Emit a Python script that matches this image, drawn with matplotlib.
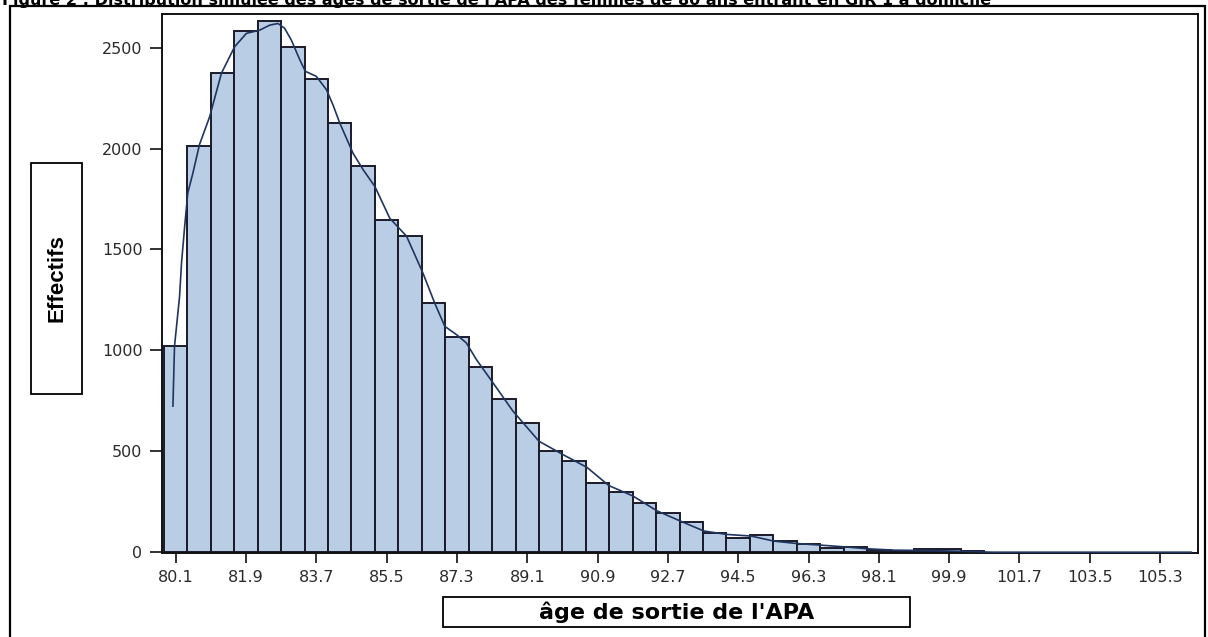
import matplotlib
matplotlib.use("Agg")
import matplotlib.pyplot as plt
from matplotlib.patches import Rectangle

# ---- data ----
bin_centers = [80.1, 80.7, 81.3, 81.9, 82.5, 83.1, 83.7, 84.3, 84.9, 85.5,
               86.1, 86.7, 87.3, 87.9, 88.5, 89.1, 89.7, 90.3, 90.9, 91.5,
               92.1, 92.7, 93.3, 93.9, 94.5, 95.1, 95.7, 96.3, 96.9, 97.5,
               98.1, 98.7, 99.3, 99.9, 100.5]
counts = [1022, 2013, 2373, 2582, 2632, 2505, 2344, 2127, 1915, 1648,
          1566, 1235, 1067, 919, 757, 638, 500, 450, 343, 300,
          243, 196, 152, 96, 69, 84, 53, 41, 23, 25,
          10, 5, 14, 14, 5]
bin_width = 0.6

curve_x = [80.03, 80.07, 80.20, 80.25, 80.33, 80.41, 80.54, 80.71, 80.97, 81.27,
           81.61, 81.91, 82.25, 82.51, 82.72, 82.89, 83.06, 83.28, 83.42, 83.70,
           83.96, 84.13, 84.30, 84.64, 84.90, 85.20, 85.58, 86.01, 86.43, 86.73,
           86.99, 87.29, 87.54, 87.80, 88.22, 88.73, 89.40, 90.01, 90.63, 91.19,
           91.80, 92.42, 93.01, 93.62, 94.21, 94.83, 95.41, 96.00, 96.61, 97.18,
           97.80, 98.50, 99.50, 100.50, 101.00, 106.10]
curve_y = [724, 1020, 1268, 1434, 1614, 1780, 1878, 2020, 2158, 2373,
           2505, 2571, 2587, 2612, 2620, 2596, 2538, 2439, 2383, 2358,
           2292, 2215, 2127, 1977, 1895, 1812, 1655, 1566, 1383, 1235,
           1119, 1078, 1037, 954, 840, 700, 550, 484, 420, 330,
           279, 205, 155, 105, 88, 80, 55, 43, 35, 27,
           17, 10, 8, 3, 0, 0]

xtick_values = [80.1, 81.9, 83.7, 85.5, 87.3, 89.1, 90.9, 92.7, 94.5, 96.3,
                98.1, 99.9, 101.7, 103.5, 105.3]
ytick_values = [0, 500, 1000, 1500, 2000, 2500]

title = ("Figure 2 : Distribution simulée des âges de sortie de l'APA des femmes "
         "de 80 ans entrant en GIR 1 à domicile")
xlabel = "âge de sortie de l'APA"
ylabel = "Effectifs"

# ---- figure ----
W, H = 1208, 637
fig = plt.figure(figsize=(W / 100, H / 100), dpi=100)
fig.patch.set_facecolor("white")

ax = fig.add_axes([162 / W, 1 - 553 / H, (1198 - 162) / W, (553 - 14) / H])
ax.bar(bin_centers, counts, width=bin_width, color="#B9CDE5",
       edgecolor="#1a1a2a", linewidth=1.4, zorder=2)
ax.plot(curve_x, curve_y, color="#1f3560", linewidth=1.2, zorder=3)

ax.set_xlim(79.75, 106.27)
ax.set_ylim(-4, 2667)
ax.set_xticks(xtick_values)
ax.set_xticklabels([f"{v:.1f}" for v in xtick_values])
ax.set_yticks(ytick_values)
ax.set_yticklabels([str(v) for v in ytick_values])
ax.tick_params(axis="x", length=7, width=1.3, color="#222222", pad=5,
               labelsize=11.5, labelcolor="#2a2a2a")
ax.tick_params(axis="y", length=9, width=1.3, color="#222222", pad=5,
               labelsize=11.5, labelcolor="#2a2a2a")
for s in ax.spines.values():
    s.set_linewidth(1.4)
    s.set_color("#111111")

# title (partially cut at the top, as in the reference)
fig.text(2 / W, 1 - 5 / H, title, ha="left", va="baseline",
         fontsize=11.5, fontweight="bold", family="DejaVu Sans", color="black")

# outer frame
fig.patches.append(Rectangle((10 / W, -0.05), (1205 - 10) / W, 1 - 6 / H + 0.05,
                             transform=fig.transFigure, fill=False,
                             edgecolor="black", linewidth=1.6))

# y label box
fig.patches.append(Rectangle((31 / W, 1 - 394 / H), 51 / W, 231 / H,
                             transform=fig.transFigure, fill=False,
                             edgecolor="black", linewidth=1.3))
fig.text(56.5 / W, 1 - 278.5 / H, ylabel, rotation=90, ha="center", va="center",
         fontsize=16, fontweight="bold", family="Liberation Sans", color="black")

# x label box
fig.patches.append(Rectangle((443 / W, 1 - 627 / H), 467 / W, 30 / H,
                             transform=fig.transFigure, fill=False,
                             edgecolor="black", linewidth=1.3))
fig.text(676.5 / W, 1 - 612 / H, xlabel, ha="center", va="center",
         fontsize=16, fontweight="bold", family="DejaVu Sans", color="black")

fig.savefig("out.png", dpi=100)
